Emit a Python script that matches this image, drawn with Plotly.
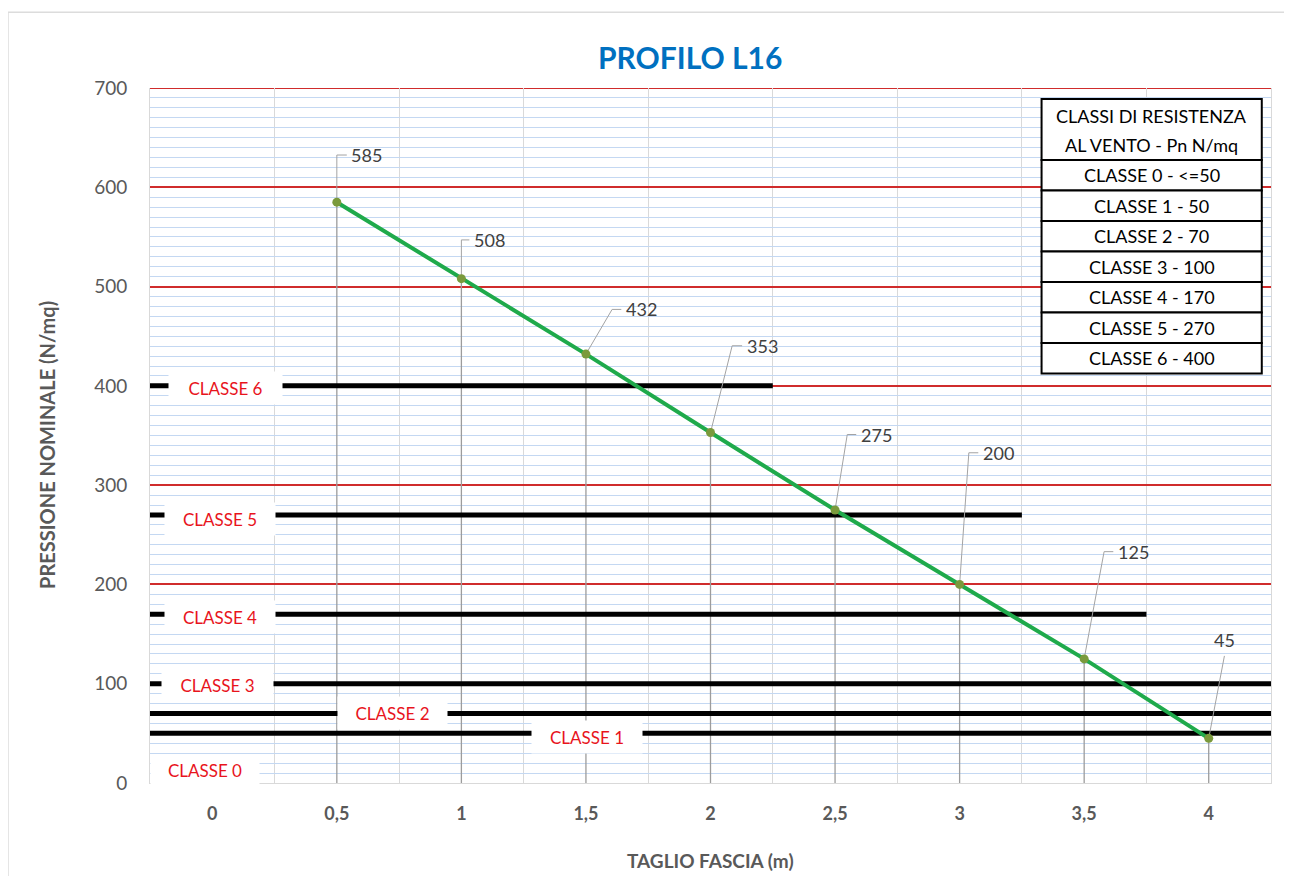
import plotly.graph_objects as go

# ---------------- data ----------------
x_tick_vals = [0, 0.5, 1, 1.5, 2, 2.5, 3, 3.5, 4]
x_tick_text = ["0", "0,5", "1", "1,5", "2", "2,5", "3", "3,5", "4"]

taglio = [0.5, 1, 1.5, 2, 2.5, 3, 3.5, 4]
pressione = [585, 508, 432, 353, 275, 200, 125, 45]

class_names = ["CLASSE 6", "CLASSE 5", "CLASSE 4", "CLASSE 3", "CLASSE 2", "CLASSE 1", "CLASSE 0"]
class_values = [400, 270, 170, 100, 70, 50]
class_line_end = [2.25, 3.25, 3.75, 4.25, 4.25, 4.25]

legend_header = ["CLASSI DI RESISTENZA", "AL VENTO - Pn N/mq"]
legend_rows = ["CLASSE 0 - <=50", "CLASSE 1 - 50", "CLASSE 2 - 70", "CLASSE 3 - 100",
               "CLASSE 4 - 170", "CLASSE 5 - 270", "CLASSE 6 - 400"]

# ---------------- layout helpers (positions / styles) ----------------
X_MIN, X_MAX = -0.25, 4.25
Y_MAX = 700
FONT = "Lato"
GRAY_TXT = "#595959"
RED_GRID = "#d02c2c"

# class label boxes: (x centre, y centre, width px, height px)
class_label_pos = [(0.054, 397.5, 111, 30), (0.032, 266, 108, 30), (0.032, 167, 108, 30),
                   (0.022, 98.5, 109, 30), (0.725, 70.5, 107, 30), (1.506, 46, 108, 30),
                   (-0.03, 13, 106, 26)]
# data label leader offsets (dx, dy) from point, tick length
leader_off = [(0.0, 47.5), (0.0, 39), (0.105, 45), (0.087, 87.4), (0.049, 76),
              (0.037, 132.6), (0.08, 108), (0.063, 83)]
leader_tick = [0.04, 0.032, 0.037, 0.04, 0.036, 0.038, 0.037, 0.0]

fig = go.Figure()

# drop lines from each point to the axis
dx, dy = [], []
for xv, yv in zip(taglio, pressione):
    dx += [xv, xv, None]
    dy += [0, yv, None]
fig.add_trace(go.Scatter(x=dx, y=dy, mode="lines", line=dict(color="#9c9c9c", width=1.3),
                         hoverinfo="skip", showlegend=False))

# class threshold lines
cx, cy = [], []
for v, e in zip(class_values, class_line_end):
    cx += [X_MIN, e, None]
    cy += [v, v, None]
fig.add_trace(go.Scatter(x=cx, y=cy, mode="lines", line=dict(color="#000000", width=5),
                         hoverinfo="skip", showlegend=False))

# leader lines for data labels
lx, ly = [], []
for xv, yv, (ox, oy), t in zip(taglio, pressione, leader_off, leader_tick):
    lx += [xv, xv + ox, xv + ox + t, None]
    ly += [yv, yv + oy, yv + oy, None]
fig.add_trace(go.Scatter(x=lx, y=ly, mode="lines", line=dict(color="#a3a3a3", width=1),
                         hoverinfo="skip", showlegend=False))

# main series
fig.add_trace(go.Scatter(x=taglio, y=pressione, mode="lines+markers",
                         line=dict(color="#1faa4b", width=4),
                         marker=dict(color="#7a9a3c", size=9),
                         hoverinfo="skip", showlegend=False))

annotations = []
# data labels
for i, (xv, yv, (ox, oy), t) in enumerate(zip(taglio, pressione, leader_off, leader_tick)):
    if t > 0:
        annotations.append(dict(x=xv + ox + t + 0.01, y=yv + oy, xref="x", yref="y",
                                text=str(yv), showarrow=False, xanchor="left", yanchor="middle",
                                font=dict(family=FONT, size=18, color="#404040")))
    else:
        annotations.append(dict(x=xv + ox, y=yv + oy + 3, xref="x", yref="y",
                                text=str(yv), showarrow=False, xanchor="center", yanchor="bottom",
                                font=dict(family=FONT, size=18, color="#404040")))

# class labels with white boxes
for name, (xc, yc, w, h) in zip(class_names, class_label_pos):
    annotations.append(dict(x=xc, y=yc, xref="x", yref="y", text=name, showarrow=False,
                            xanchor="center", yanchor="middle", width=w, height=h,
                            bgcolor="#ffffff", align="center", valign="middle",
                            font=dict(family=FONT, size=17, color="#e8141c")))

shapes = []
# top red gridline at the upper range edge
shapes.append(dict(type="line", xref="paper", yref="y", x0=0, x1=1, y0=Y_MAX, y1=Y_MAX,
                   line=dict(color=RED_GRID, width=1.8), layer="between"))

# legend table
TX0, TX1 = 3.329, 4.213
T_TOP, T_HEAD_BOT, ROW_H = 688.9, 627.4, 30.7
shapes.append(dict(type="rect", xref="x", yref="y", x0=TX0, x1=TX1, y0=T_HEAD_BOT, y1=T_TOP,
                   fillcolor="#ffffff", line=dict(color="#000000", width=2), layer="above"))
annotations.append(dict(x=(TX0 + TX1) / 2, y=T_TOP - (T_TOP - T_HEAD_BOT) * 0.28, xref="x", yref="y",
                        text=legend_header[0], showarrow=False,
                        font=dict(family=FONT, size=18, color="#000000")))
annotations.append(dict(x=(TX0 + TX1) / 2, y=T_TOP - (T_TOP - T_HEAD_BOT) * 0.76, xref="x", yref="y",
                        text=legend_header[1], showarrow=False,
                        font=dict(family=FONT, size=18, color="#000000")))
for i, row in enumerate(legend_rows):
    y1 = T_HEAD_BOT - i * ROW_H
    y0 = y1 - ROW_H
    shapes.append(dict(type="rect", xref="x", yref="y", x0=TX0, x1=TX1, y0=y0, y1=y1,
                       fillcolor="#ffffff", line=dict(color="#000000", width=2), layer="above"))
    annotations.append(dict(x=(TX0 + TX1) / 2, y=(y0 + y1) / 2, xref="x", yref="y", text=row,
                            showarrow=False, font=dict(family=FONT, size=18, color="#000000")))

# outer chart border
shapes.append(dict(type="rect", xref="paper", yref="paper", x0=-0.1267, x1=1.016, y0=-0.2, y1=1.109,
                   line=dict(color="#dcdcdc", width=1.5), fillcolor="rgba(0,0,0,0)", layer="below"))

# titles
annotations.append(dict(x=0.4817, y=1.0446, xref="paper", yref="paper", text="PROFILO L16",
                        showarrow=False, xanchor="center", yanchor="middle",
                        font=dict(family=FONT, size=30, color="#0070c0", weight="bold")))
annotations.append(dict(x=0.5, y=-0.1108, xref="paper", yref="paper", text="TAGLIO FASCIA (m)",
                        showarrow=False, xanchor="center", yanchor="middle",
                        font=dict(family=FONT, size=19, color=GRAY_TXT, weight="bold")))
annotations.append(dict(x=-0.0919, y=0.4863, xref="paper", yref="paper",
                        text="PRESSIONE NOMINALE (N/mq)", textangle=-90,
                        showarrow=False, xanchor="center", yanchor="middle",
                        font=dict(family=FONT, size=20, color=GRAY_TXT, weight="bold")))

fig.update_layout(
    width=1276, height=868,
    margin=dict(l=142, r=13, t=80, b=93),
    paper_bgcolor="#ffffff", plot_bgcolor="#ffffff",
    showlegend=False,
    annotations=annotations, shapes=shapes,
    xaxis=dict(range=[X_MIN, X_MAX], tickmode="array", tickvals=x_tick_vals, ticktext=x_tick_text,
               showgrid=False, zeroline=False, showline=True, linecolor="#d9d9d9", linewidth=1,
               ticks="outside", ticklen=14, tickcolor="rgba(0,0,0,0)",
               tickfont=dict(family=FONT, size=18, color=GRAY_TXT, weight="bold"),
               minor=dict(tick0=-0.25, dtick=0.5, showgrid=True, gridcolor="#d9d9d9", gridwidth=1),
               fixedrange=True),
    yaxis=dict(range=[0, Y_MAX], tickmode="linear", tick0=0, dtick=100,
               showgrid=True, gridcolor=RED_GRID, gridwidth=1.8, zeroline=False,
               showline=True, linecolor="#d9d9d9", linewidth=1, mirror=True,
               ticks="outside", ticklen=18, tickcolor="rgba(0,0,0,0)",
               tickfont=dict(family=FONT, size=19, color=GRAY_TXT),
               minor=dict(dtick=10, showgrid=True, gridcolor="#c4d8f2", gridwidth=1),
               fixedrange=True),
)

fig.write_html("out.html")
